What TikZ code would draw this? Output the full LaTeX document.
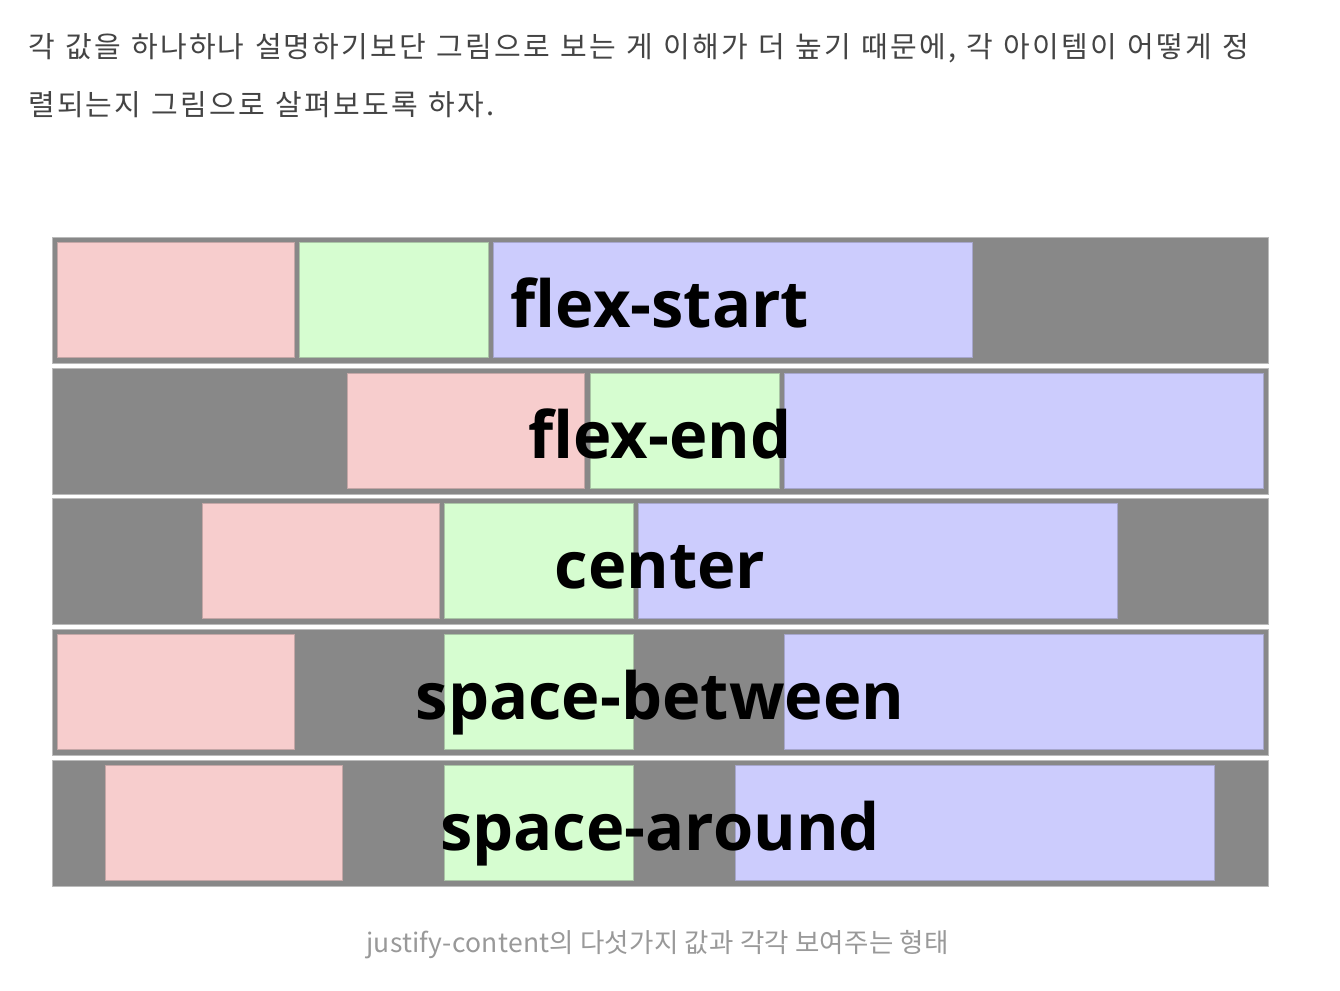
\documentclass[tikz,border=0pt]{standalone}
\usepackage{fontspec}
\newfontfamily\krfont{Noto Sans CJK KR}[LetterSpace=7.6,WordSpace=1.2]
\newfontfamily\capfont{Noto Sans CJK KR}[LetterSpace=1]
\newfontfamily\lblfont{Open Sans}
\definecolor{boxgray}{HTML}{888888}
\definecolor{rimgray}{HTML}{BBBBBB}
\definecolor{pinkfill}{HTML}{F7CDCD}
\definecolor{pinkrim}{HTML}{C4A6A6}
\definecolor{greenfill}{HTML}{D6FDD0}
\definecolor{greenrim}{HTML}{A9C4A5}
\definecolor{bluefill}{HTML}{CCCCFD}
\definecolor{bluerim}{HTML}{A6A6CC}
\definecolor{headtext}{HTML}{444444}
\definecolor{captext}{HTML}{999999}
\tikzset{
  container/.style={fill=boxgray, draw=rimgray, line width=1pt},
  pinkitem/.style={fill=pinkfill, draw=pinkrim, line width=1pt},
  greenitem/.style={fill=greenfill, draw=greenrim, line width=1pt},
  blueitem/.style={fill=bluefill, draw=bluerim, line width=1pt},
  lbl/.style={anchor=base, inner sep=0pt, font=\lblfont\bfseries\fontsize{65}{70}\selectfont, text=black},
  headline/.style={anchor=base west, inner sep=0pt, font=\krfont\fontsize{29}{34}\selectfont, text=headtext},
  caption/.style={anchor=base, inner sep=0pt, font=\capfont\fontsize{26.5}{30}\selectfont, text=captext}
}
\begin{document}
\begin{tikzpicture}[x=1pt,y=-1pt]
\useasboundingbox (0,0) rectangle (1340,990);
\fill[white] (0,0) rectangle (1340,990);
\node[headline] (head1) at (28,57) {각 값을 하나하나 설명하기보단 그림으로 보는 게 이해가 더 높기 때문에, 각 아이템이 어떻게 정};
\node[headline] (head2) at (28,115) {렬되는지 그림으로 살펴보도록 하자.};
\foreach \yy/\px/\gx/\bx/\lab in {237/57/299/493/flex-start, 368/347/590/784/flex-end, 498/202/444/638/center, 629/57/444/784/space-between, 760/105/444/735/space-around}{
  \draw[container] (52,\yy) rectangle (1268,\yy+126);
  \draw[pinkitem] (\px+0.5,\yy+5.5) rectangle (\px+237.5,\yy+120.5);
  \draw[greenitem] (\gx+0.5,\yy+5.5) rectangle (\gx+189.5,\yy+120.5);
  \draw[blueitem] (\bx+0.5,\yy+5.5) rectangle (\bx+479.5,\yy+120.5);
  \node[lbl] (lab-\lab) at (660,\yy+90) {\lab};
}
\node[caption] (cap) at (657.5,952) {justify-content의 다섯가지 값과 각각 보여주는 형태};
\end{tikzpicture}
\end{document}
